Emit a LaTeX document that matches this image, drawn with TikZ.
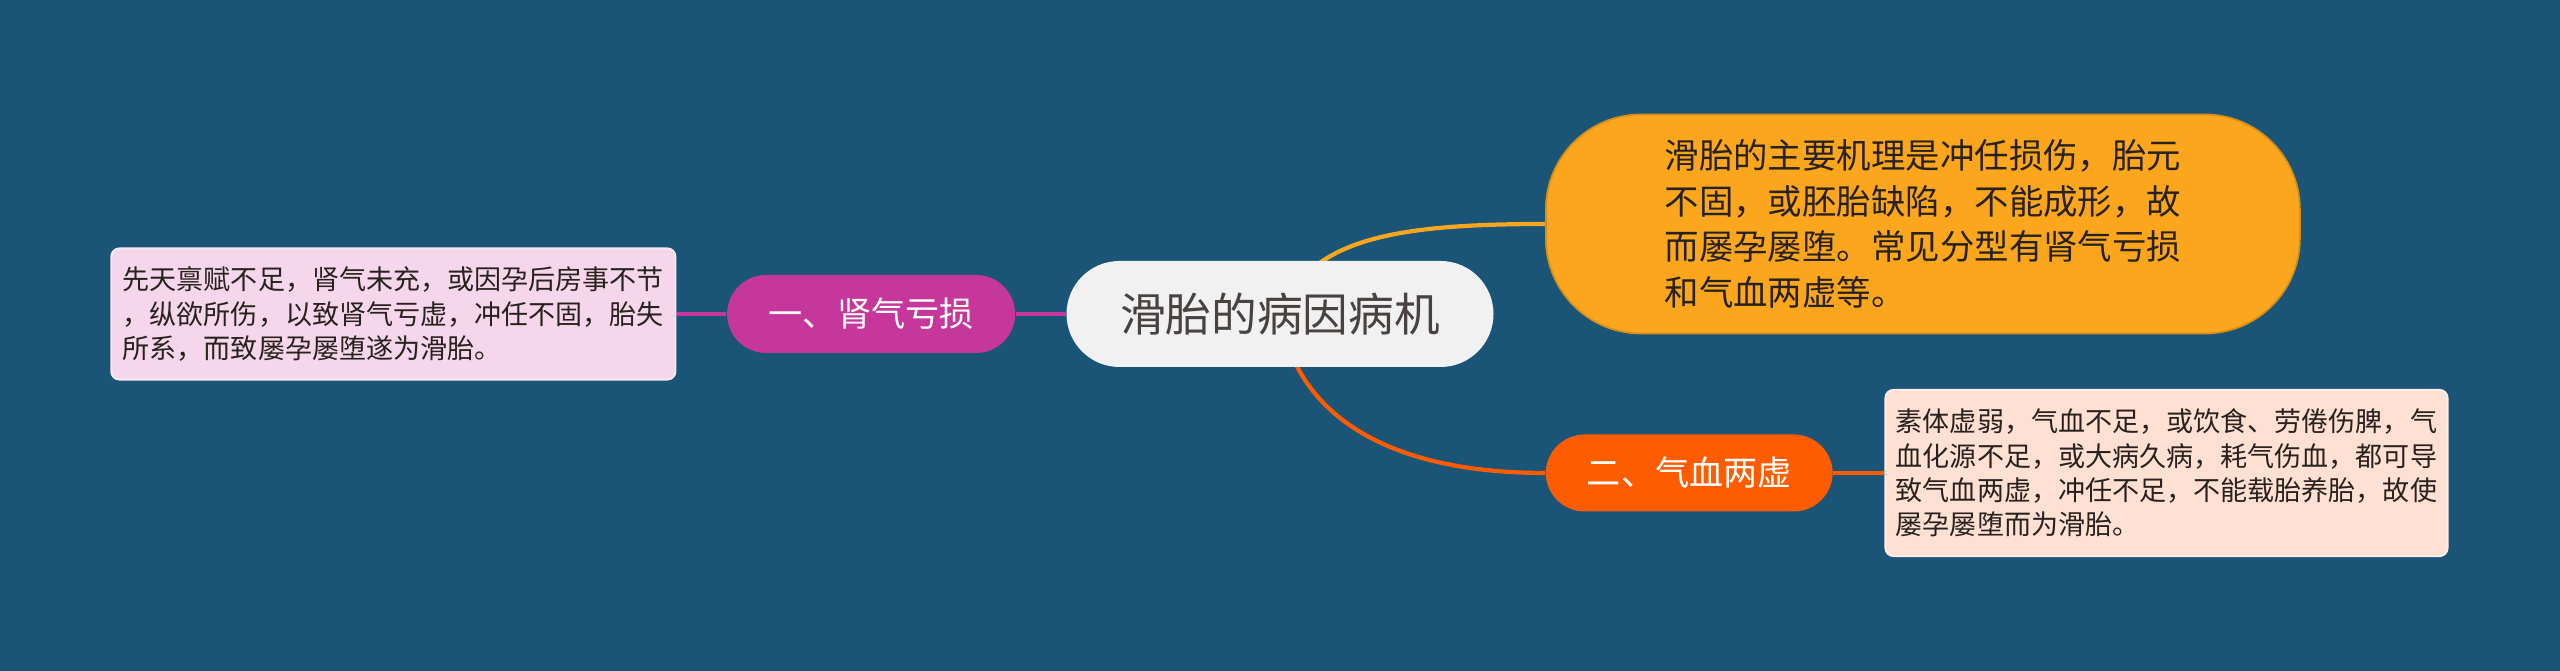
\documentclass[tikz,border=0pt]{standalone}
\usepackage{fontspec}
\setmainfont{Noto Sans CJK SC}
\usetikzlibrary{positioning}
\definecolor{nenxanh}{RGB}{26,84,118}
\definecolor{goctrang}{RGB}{241,241,241}
\definecolor{hong}{RGB}{197,55,155}
\definecolor{honghop}{RGB}{246,214,234}
\definecolor{cam}{RGB}{252,166,30}
\definecolor{do}{RGB}{255,92,0}
\definecolor{dohop}{RGB}{255,224,210}
\definecolor{chu}{RGB}{40,34,30}
\pgfdeclarelayer{nen}
\pgfsetlayers{nen,main}
\begin{document}
\begin{tikzpicture}[line join=round, line cap=round,
		goc/.style={fill=goctrang, text=chu!85, rounded corners=0.53cm, minimum width=4.27cm, minimum height=1.06cm, inner sep=0pt, font=\fontsize{13pt}{15pt}\selectfont},
		nhanh/.style={text=white, rounded corners=0.39cm, minimum width=2.88cm, minimum height=0.78cm, inner sep=0pt, font=\fontsize{9.7pt}{12pt}\selectfont},
		hop/.style={rounded corners=0.08cm, line width=0.6pt, text=chu, align=left, inner sep=0pt, font=\fontsize{7.7pt}{9.76pt}\selectfont},
		noi/.style={line width=1.2pt}]
		\def\w{25.6} % chiều rộng
		\def\h{6.71} % chiều cao
		\begin{pgfonlayer}{nen}
			\fill[nenxanh] (0,0) rectangle (\w,-\h);
		\end{pgfonlayer}
		\node[goc] (goc) at (12.8,-3.14) {滑胎的病因病机};
		\node[nhanh, fill=hong, left=0.5cm of goc] (than) {一、肾气亏损};
		\node[hop, fill=honghop, draw=honghop!60!white, minimum width=5.64cm, minimum height=1.31cm, left=0.5cm of than] (thanhop) {先天禀赋不足，肾气未充，或因孕后房事不节\\，纵欲所伤，以致肾气亏虚，冲任不固，胎失\\所系，而致屡孕屡堕遂为滑胎。};
		\node[fill=cam, draw=cam!85!black, line width=0.5pt, rounded corners=0.95cm, minimum width=7.54cm, minimum height=2.19cm, inner sep=0pt, anchor=west, align=left, text=chu, font=\fontsize{9.8pt}{13pt}\selectfont] (coche) at (15.45,-2.24) {滑胎的主要机理是冲任损伤，胎元\\不固，或胚胎缺陷，不能成形，故\\而屡孕屡堕。常见分型有肾气亏损\\和气血两虚等。};
		\node[nhanh, fill=do, minimum width=2.87cm, minimum height=0.77cm, anchor=west] (khihuyet) at (15.45,-4.73) {二、气血两虚};
		\node[hop, fill=dohop, draw=dohop!60!white, minimum width=5.62cm, minimum height=1.66cm, right=0.51cm of khihuyet] (khihop) {素体虚弱，气血不足，或饮食、劳倦伤脾，气\\血化源不足，或大病久病，耗气伤血，都可导\\致气血两虚，冲任不足，不能载胎养胎，故使\\屡孕屡堕而为滑胎。};
		\begin{pgfonlayer}{nen}
			\draw[noi, hong] (goc) -- (than);
			\draw[noi, hong] (than) -- (thanhop);
			\draw[noi, cam] (goc.center) .. controls (13.1,-2.4) and (13.9,-2.24) .. (coche.west);
			\draw[noi, do] (goc.center) .. controls (12.95,-4.1) and (13.8,-4.73) .. (khihuyet.west);
			\draw[noi, do] (khihuyet) -- (khihop);
		\end{pgfonlayer}
\end{tikzpicture}
\end{document}
